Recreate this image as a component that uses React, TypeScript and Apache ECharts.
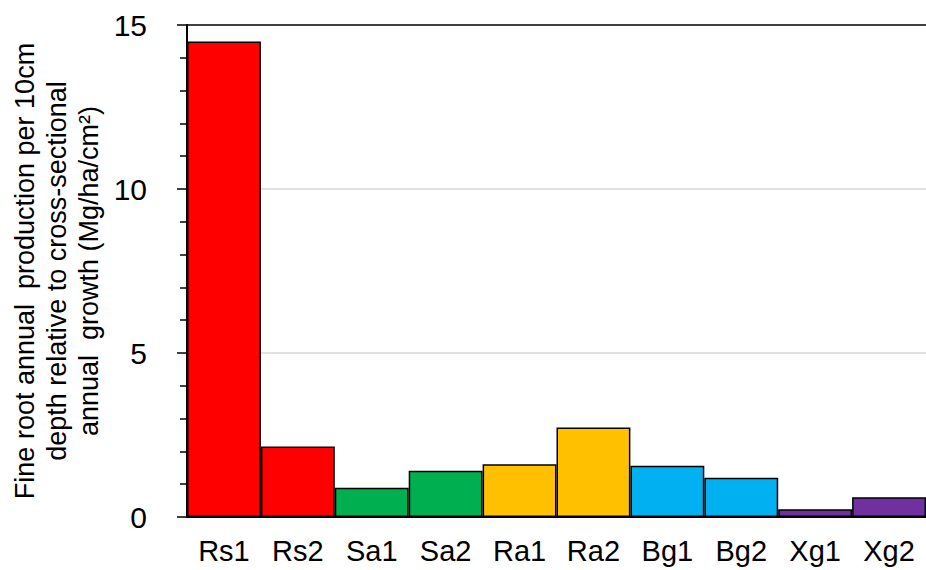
import React, { useEffect, useRef } from "react";
import * as echarts from "echarts";

const categories = ["Rs1", "Rs2", "Sa1", "Sa2", "Ra1", "Ra2", "Bg1", "Bg2", "Xg1", "Xg2"];
const values = [14.5, 2.15, 0.89, 1.41, 1.61, 2.73, 1.56, 1.2, 0.24, 0.6];
const barColors = ["#FF0000", "#FF0000", "#00B050", "#00B050", "#FFC000", "#FFC000", "#00B0F0", "#00B0F0", "#7030A0", "#7030A0"];
const yTicks = [0, 5, 10, 15];
const yTitleLines = [
  "Fine root annual  production per 10cm",
  "depth relative to cross-sectional",
  "annual  growth (Mg/ha/cm\u00B2)",
];

export default function App() {
  const ref = useRef<HTMLDivElement>(null);
  useEffect(() => {
    if (!ref.current) return;
    const chart = echarts.init(ref.current, undefined, { renderer: "svg" });
    const font = "Arial, 'Liberation Sans', sans-serif";
    chart.setOption({
      animation: false,
      backgroundColor: "#ffffff",
      grid: { left: 187, right: 0, top: 25, bottom: 53, containLabel: false },
      xAxis: {
        type: "category",
        data: categories,
        axisLine: { show: true, lineStyle: { color: "#000", width: 2 } },
        axisTick: { show: false },
        axisLabel: { color: "#000", fontSize: 29, fontFamily: font, margin: 19 },
        splitLine: { show: false },
      },
      yAxis: {
        type: "value",
        min: yTicks[0],
        max: yTicks[yTicks.length - 1],
        interval: 5,
        axisLine: { show: true, lineStyle: { color: "#000", width: 2 } },
        axisTick: { show: true, length: 10, lineStyle: { color: "#000", width: 1.5 } },
        minorTick: { show: true, splitNumber: 5, length: 7, lineStyle: { color: "#000", width: 1.5 } },
        axisLabel: { color: "#000", fontSize: 30, fontFamily: font, margin: 40 },
        splitLine: {
          show: true,
          lineStyle: { color: ["#d9d9d9", "#d9d9d9", "#d9d9d9", "#000000"], width: 1.5 },
        },
      },
      graphic: [
        {
          type: "text",
          x: 57,
          y: 271,
          rotation: Math.PI / 2,
          style: {
            text: yTitleLines.join("\n"),
            fontSize: 27,
            lineHeight: 32,
            fontFamily: font,
            fill: "#000",
            align: "center",
            verticalAlign: "middle",
          },
        },
      ],
      series: [
        {
          type: "bar",
          data: values.map((v, i) => ({ value: v, itemStyle: { color: barColors[i] } })),
          barCategoryGap: "0%",
          itemStyle: { borderColor: "#000", borderWidth: 1.5 },
        },
      ],
    });
    return () => chart.dispose();
  }, []);
  return <div ref={ref} style={{ position: "fixed", left: 0, top: 0, width: 926, height: 570 }} />;
}
